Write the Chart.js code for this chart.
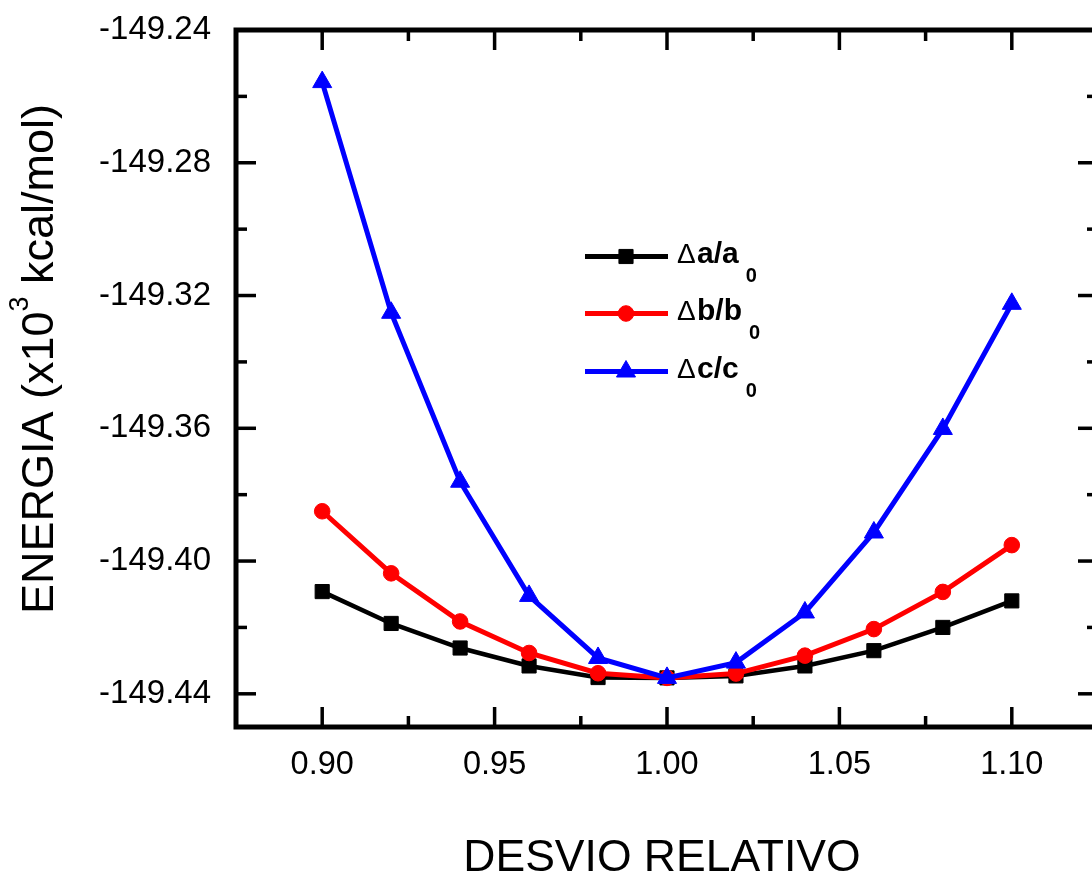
<!DOCTYPE html>
<html>
<head>
<meta charset="utf-8">
<title>Energia vs desvio relativo</title>
<style>
  html, body { margin: 0; padding: 0; overflow: hidden; background: #ffffff; }
  canvas { display: block; }
</style>
<script src="https://cdn.jsdelivr.net/npm/chart.js@4.4.1/dist/chart.umd.min.js"></script>
</head>
<body>
<canvas id="grafico" width="1110" height="872"></canvas>
<script>
// Relative deviation of each lattice parameter
const desvio = [0.90, 0.92, 0.94, 0.96, 0.98, 1.00, 1.02, 1.04, 1.06, 1.08, 1.10];

// Energy (x10^3 kcal/mol) for each deformed parameter
const energiaA = [-149.4092, -149.4188, -149.4262, -149.4316, -149.4351, -149.4352,
                  -149.4346, -149.4316, -149.4270, -149.4200, -149.4120];
const energiaB = [-149.3850, -149.4037, -149.4182, -149.4277, -149.4338, -149.4352,
                  -149.4339, -149.4285, -149.4205, -149.4093, -149.3952];
const energiaC = [-149.2557, -149.3252, -149.3761, -149.4105, -149.4292, -149.4352,
                  -149.4306, -149.4155, -149.3914, -149.3602, -149.3225];

// Axis ticks
const xTicks = [0.90, 0.95, 1.00, 1.05, 1.10];
const xMinorTicks = [0.925, 0.975, 1.025, 1.075];
const yTicks = [-149.44, -149.40, -149.36, -149.32, -149.28, -149.24];
const yMinorTicks = [-149.42, -149.38, -149.34, -149.30, -149.26];

// Legend pieces: Δ + main text + subscript
const legendMain = ['a/a', 'b/b', 'c/c'];
const legendSub = ['0', '0', '0'];

const FONT = 'Arial, "Liberation Sans", Helvetica, sans-serif';

const toPoints = (ys) => desvio.map((x, i) => ({ x, y: ys[i] }));

// Mirrored box with inward major/minor ticks on all four sides
const framePlugin = {
  id: 'frame',
  afterDatasetsDraw(chart) {
    const { ctx, chartArea: a, scales: { x, y } } = chart;
    const MAJ = 20, MIN = 11;
    ctx.save();
    ctx.strokeStyle = '#000';
    ctx.lineWidth = 3.5;
    const seg = (x1, y1, x2, y2) => { ctx.beginPath(); ctx.moveTo(x1, y1); ctx.lineTo(x2, y2); ctx.stroke(); };
    xTicks.forEach(v => { const p = x.getPixelForValue(v); seg(p, a.bottom, p, a.bottom - MAJ); seg(p, a.top, p, a.top + MAJ); });
    xMinorTicks.forEach(v => { const p = x.getPixelForValue(v); seg(p, a.bottom, p, a.bottom - MIN); seg(p, a.top, p, a.top + MIN); });
    yTicks.forEach(v => { const p = y.getPixelForValue(v); seg(a.left, p, a.left + MAJ, p); seg(a.right, p, a.right - MAJ, p); });
    yMinorTicks.forEach(v => { const p = y.getPixelForValue(v); seg(a.left, p, a.left + MIN, p); seg(a.right, p, a.right - MIN, p); });
    ctx.lineWidth = 5;
    ctx.strokeRect(a.left, a.top, a.right - a.left, a.bottom - a.top);
    ctx.restore();
  }
};

function drawMarker(ctx, style, r, px, py, color) {
  ctx.fillStyle = color;
  ctx.strokeStyle = color;
  ctx.lineWidth = 1;
  if (Chart.helpers && Chart.helpers.drawPoint) {
    Chart.helpers.drawPoint(ctx, { pointStyle: style, radius: r, borderWidth: 1, rotation: 0 }, px, py);
    return;
  }
  ctx.beginPath();
  if (style === 'rect') {
    const s = r * Math.SQRT1_2;
    ctx.rect(px - s, py - s, 2 * s, 2 * s);
  } else if (style === 'circle') {
    ctx.arc(px, py, r, 0, Math.PI * 2);
  } else {
    for (let k = 0; k < 3; k++) {
      const ang = -Math.PI / 2 + k * 2 * Math.PI / 3;
      const vx = px + r * Math.cos(ang), vy = py + r * Math.sin(ang);
      if (k === 0) ctx.moveTo(vx, vy); else ctx.lineTo(vx, vy);
    }
    ctx.closePath();
  }
  ctx.fill();
  ctx.stroke();
}

// Axis titles and the in-plot legend
const textPlugin = {
  id: 'textos',
  afterDraw(chart) {
    const ctx = chart.ctx;
    ctx.save();
    ctx.fillStyle = '#000';
    ctx.textBaseline = 'alphabetic';
    ctx.textAlign = 'left';

    // x title
    ctx.font = '44.5px ' + FONT;
    const xt = 'DESVIO RELATIVO';
    const xw = ctx.measureText(xt).width;
    ctx.fillText(xt, 662 - xw / 2, 871);

    // y title (rotated) with superscript
    const p1 = 'ENERGIA (x10', p2 = '3', p3 = ' kcal/mol)';
    ctx.font = '45px ' + FONT;
    const w1 = ctx.measureText(p1).width, w3 = ctx.measureText(p3).width;
    ctx.font = '27px ' + FONT;
    const w2 = ctx.measureText(p2).width;
    const total = w1 + w2 + w3;
    ctx.translate(53, 359);
    ctx.rotate(-Math.PI / 2);
    let cx = -total / 2;
    ctx.font = '45px ' + FONT;
    ctx.fillText(p1, cx, 0); cx += w1;
    ctx.font = '27px ' + FONT;
    ctx.fillText(p2, cx, -25); cx += w2;
    ctx.font = '45px ' + FONT;
    ctx.fillText(p3, cx, 0);
    ctx.setTransform(1, 0, 0, 1, 0, 0);

    // legend
    const rowsY = [256.5, 313.5, 371.5];
    chart.data.datasets.forEach((ds, i) => {
      const ly = rowsY[i];
      ctx.strokeStyle = ds.borderColor;
      ctx.lineWidth = 5;
      ctx.beginPath(); ctx.moveTo(585, ly); ctx.lineTo(668, ly); ctx.stroke();
      drawMarker(ctx, ds.pointStyle, ds.pointRadius, 626, ly, ds.borderColor);
      ctx.fillStyle = '#000';
      const base = ly + 6;
      ctx.font = '28px ' + FONT;
      ctx.fillText('\u0394', 677, base);
      ctx.font = 'bold 30px ' + FONT;
      ctx.fillText(legendMain[i], 697, base);
      const mw = ctx.measureText(legendMain[i]).width;
      ctx.font = 'bold 20px ' + FONT;
      ctx.fillText(legendSub[i], 697 + mw + 7, base + 19);
    });
    ctx.restore();
  }
};

new Chart(document.getElementById('grafico'), {
  type: 'line',
  data: {
    datasets: [
      { label: '\u0394a/a0', data: toPoints(energiaA), borderColor: '#000000', backgroundColor: '#000000',
        borderWidth: 4.5, pointStyle: 'rect', pointRadius: 10, pointBorderWidth: 1,
        pointBackgroundColor: '#000000', pointBorderColor: '#000000', order: 3 },
      { label: '\u0394b/b0', data: toPoints(energiaB), borderColor: '#ff0000', backgroundColor: '#ff0000',
        borderWidth: 5, pointStyle: 'circle', pointRadius: 7.8, pointBorderWidth: 1,
        pointBackgroundColor: '#ff0000', pointBorderColor: '#ff0000', order: 2 },
      { label: '\u0394c/c0', data: toPoints(energiaC), borderColor: '#0000ff', backgroundColor: '#0000ff',
        borderWidth: 5, pointStyle: 'triangle', pointRadius: 11, pointBorderWidth: 1,
        pointBackgroundColor: '#0000ff', pointBorderColor: '#0000ff', order: 1 }
    ]
  },
  options: {
    responsive: false,
    animation: false,
    devicePixelRatio: 1,
    layout: { padding: { top: 30, right: 6, left: 0, bottom: 0 } },
    plugins: { legend: { display: false }, tooltip: { enabled: false } },
    scales: {
      x: {
        type: 'linear',
        min: 0.875,
        max: 1.125,
        grid: { display: false, drawTicks: false },
        border: { display: false },
        afterBuildTicks: (s) => { s.ticks = xTicks.map(v => ({ value: v })); },
        afterFit: (s) => { s.height = 145; s.paddingLeft = 0; s.paddingRight = 0; },
        ticks: {
          padding: 19,
          color: '#000',
          font: { family: FONT, size: 32.5 },
          maxRotation: 0,
          callback: (v) => Number(v).toFixed(2)
        }
      },
      y: {
        type: 'linear',
        min: -149.45,
        max: -149.24,
        grid: { display: false, drawTicks: false },
        border: { display: false },
        afterBuildTicks: (s) => { s.ticks = yTicks.map(v => ({ value: v })); },
        afterFit: (s) => { s.width = 236; s.paddingTop = 0; s.paddingBottom = 0; },
        ticks: {
          padding: 25,
          color: '#000',
          font: { family: FONT, size: 33 },
          callback: (v) => Number(v).toFixed(2)
        }
      }
    }
  },
  plugins: [framePlugin, textPlugin]
});
</script>
</body>
</html>
